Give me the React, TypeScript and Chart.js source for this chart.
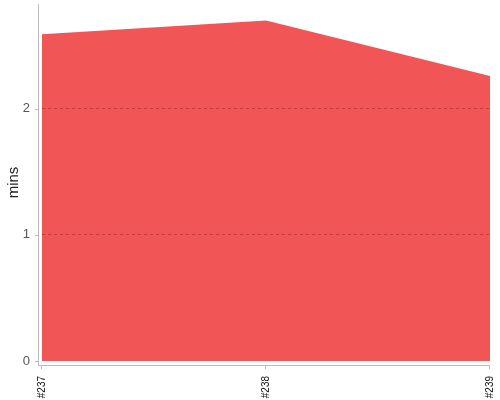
import React, { useEffect, useRef } from 'react';
import { Chart, registerables } from 'chart.js';

Chart.register(...registerables);

// build labels and build durations (minutes)
const builds = ['#237', '#238', '#239'];
const durations = [2.59, 2.7, 2.26];
const yTicks = [0, 1, 2];

// axis lines sit a few pixels away from the plot, drawn after everything else
const offsetAxes = {
    id: 'offsetAxes',
    afterDraw(chart: any) {
        const { ctx, chartArea, scales } = chart;
        const axisX = chartArea.left - 3;
        const axisY = chartArea.bottom + 4;
        ctx.save();
        ctx.strokeStyle = '#bbbbbb';
        ctx.lineWidth = 1;
        ctx.beginPath();
        ctx.moveTo(axisX - 0.5, chartArea.top);
        ctx.lineTo(axisX - 0.5, axisY + 0.5);
        ctx.lineTo(chartArea.right, axisY + 0.5);
        ctx.stroke();
        ctx.beginPath();
        yTicks.forEach((v) => {
            const py = Math.round(scales.y.getPixelForValue(v)) + 0.5;
            ctx.moveTo(axisX - 4, py);
            ctx.lineTo(axisX - 1, py);
        });
        builds.forEach((_, i) => {
            const px = Math.round(scales.x.getPixelForValue(i)) - 0.5;
            ctx.moveTo(px, axisY);
            ctx.lineTo(px, axisY + 4);
        });
        ctx.stroke();
        ctx.restore();
    },
};

const App: React.FC = () => {
    const canvasRef = useRef<HTMLCanvasElement | null>(null);

    useEffect(() => {
        document.body.style.margin = '0';
        if (!canvasRef.current) return;
        const chart = new Chart(canvasRef.current, {
            type: 'line',
            data: {
                labels: builds,
                datasets: [
                    {
                        data: durations,
                        fill: 'origin',
                        backgroundColor: '#f25555',
                        borderColor: '#f25555',
                        borderWidth: 0,
                        pointRadius: 0,
                        tension: 0,
                    },
                ],
            },
            options: {
                animation: false,
                responsive: false,
                layout: { padding: { top: 4, right: 10, left: 0, bottom: 0 } },
                plugins: { legend: { display: false }, tooltip: { enabled: false } },
                scales: {
                    x: {
                        offset: false,
                        grid: { display: false, drawTicks: false },
                        border: { display: false },
                        afterFit: (scale: any) => {
                            scale.paddingLeft = 0;
                            scale.paddingRight = 0;
                            scale.height = 39;
                        },
                        ticks: {
                            minRotation: 90,
                            maxRotation: 90,
                            padding: 15,
                            color: '#111',
                            font: { family: 'Liberation Sans', size: 10 },
                        },
                    },
                    y: {
                        min: 0,
                        max: 2.83,
                        afterBuildTicks: (scale: any) => {
                            scale.ticks = yTicks.map((v) => ({ value: v }));
                        },
                        afterFit: (scale: any) => {
                            scale.paddingTop = 0;
                            scale.paddingBottom = 0;
                            scale.width = 42;
                        },
                        grid: {
                            z: 1,
                            color: 'rgba(150, 25, 25, 0.45)',
                            drawTicks: false,
                            lineWidth: (c: any) => (c.tick && c.tick.value === 0 ? 0 : 1),
                        },
                        border: { display: false, dash: [3, 3] },
                        ticks: {
                            padding: 12,
                            color: '#555',
                            font: { family: 'Liberation Sans', size: 13 },
                        },
                        title: {
                            display: true,
                            text: 'mins',
                            color: '#222',
                            padding: { top: 5, bottom: 0 },
                            font: { family: 'Liberation Sans', size: 15 },
                        },
                    },
                },
            },
            plugins: [offsetAxes],
        });
        return () => chart.destroy();
    }, []);

    return (
        <div style={{ width: 500, height: 400 }}>
            <canvas ref={canvasRef} width={500} height={400}></canvas>
        </div>
    );
};

export default App;
